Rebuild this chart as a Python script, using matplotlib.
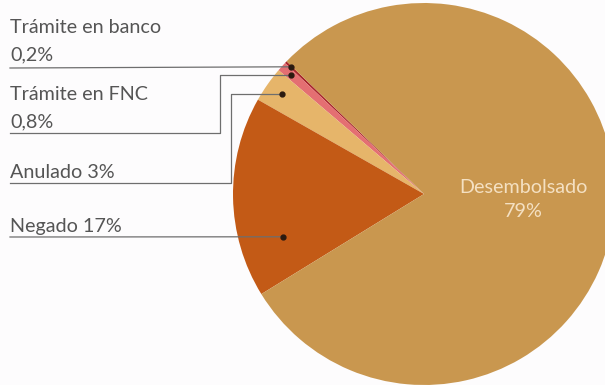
import matplotlib.pyplot as plt
import numpy as np

# Estado de las solicitudes de crédito
estados = ['Trámite en banco', 'Trámite en FNC', 'Anulado', 'Negado', 'Desembolsado']
porcentajes = [0.2, 0.8, 3, 17, 79]
etiquetas = [['Trámite en banco', '0,2%'], ['Trámite en FNC', '0,8%'],
             ['Anulado 3%'], ['Negado 17%']]
colores = ['#A8262C', '#E46F72', '#E6B56A', '#C35A16', '#C9974F']

W, H = 605, 385
fig = plt.figure(figsize=(W / 100, H / 100), dpi=100)
fig.patch.set_facecolor('#FDFCFD')
ax = fig.add_axes([0, 0, 1, 1])

cx, cy, R = 424, H - 194, 191
start = 136.0
wedges, _ = ax.pie(porcentajes, colors=colores, startangle=start, counterclock=True,
                   center=(cx, cy), radius=R, wedgeprops=dict(linewidth=0))

ax.set_xlim(0, W)
ax.set_ylim(0, H)
ax.set_aspect('equal')
ax.axis('off')

fuente = dict(family='Lato', fontsize=14.2)

# Texto dentro de la porción mayor
ax.text(523, H - 193, estados[4], color='#F4E0C2', ha='center', va='baseline', **fuente)
ax.text(523, H - 217, f'{porcentajes[4]:g}%', color='#F4E0C2', ha='center', va='baseline',
        **fuente)

# Puntos de anclaje: posición dentro de cada porción (fracción angular, fracción de radio)
frac_ang = [0.5, 0.5, 0.5, 0.76]
frac_rad = [0.965, 0.935, 0.91, 0.77]
# Líneas guía: altura de la línea horizontal y codo vertical
y_linea = [68, 133, 183, 237]
x_codo = [None, 220, 231, None]
# Línea base de la primera línea de cada etiqueta
y_base = [33, 100, 178, 232]
salto = 27

gris = '#6E6E6E'
for i, w in enumerate(wedges[:4]):
    a = np.deg2rad(w.theta1 + frac_ang[i] * (w.theta2 - w.theta1))
    px = cx + frac_rad[i] * R * np.cos(a)
    py = cy + frac_rad[i] * R * np.sin(a)
    ax.plot(px, py, 'o', color='#2A1A10', markersize=3.5, zorder=5)
    if x_codo[i] is None:
        ax.plot([10, px], [H - y_linea[i], py], color=gris, lw=0.9, zorder=4)
    else:
        ax.plot([px, x_codo[i], x_codo[i], 10],
                [py, py, H - y_linea[i], H - y_linea[i]], color=gris, lw=0.9, zorder=4)
    for k, linea in enumerate(etiquetas[i]):
        ax.text(10, H - y_base[i] - k * salto, linea, color='#555555',
                ha='left', va='baseline', **fuente)

fig.savefig('out.png', dpi=100, facecolor=fig.get_facecolor())
